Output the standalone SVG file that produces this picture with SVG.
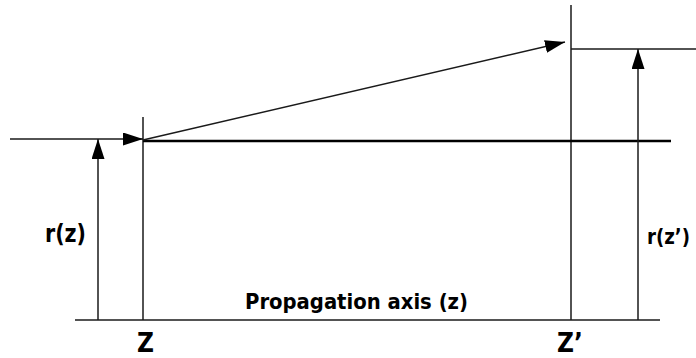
<svg xmlns="http://www.w3.org/2000/svg" width="696" height="358" viewBox="0 0 696 358">
<defs>
<marker id="ah" markerUnits="userSpaceOnUse" markerWidth="22" markerHeight="14" refX="20" refY="6.5" orient="auto">
<path d="M0,0 L20,6.5 L0,13 Z" fill="#000"/>
</marker>
<style>
.ln{stroke:#1a1a1a;stroke-width:1.5;fill:none}
.thick{stroke:#000;stroke-width:2.5;fill:none}
.lbl{font-family:"DejaVu Sans Condensed","DejaVu Sans",sans-serif;font-weight:bold;fill:#000}
</style>
</defs>
<rect width="696" height="358" fill="#fff"/>
<g id="axes">
<line class="ln" x1="75" y1="320" x2="660" y2="320"/>
<line class="ln" x1="143" y1="117" x2="143" y2="320"/>
<line class="ln" x1="571" y1="5" x2="571" y2="320"/>
<line class="ln" x1="571" y1="49" x2="696" y2="49"/>
<line class="thick" x1="143" y1="141" x2="671" y2="141"/>
</g>
<g id="connectors">
<line class="ln" x1="10" y1="139" x2="143" y2="139" marker-end="url(#ah)"/>
<line class="ln" x1="143" y1="140" x2="565" y2="42" marker-end="url(#ah)"/>
<line class="ln" x1="98" y1="320" x2="98" y2="139" marker-end="url(#ah)"/>
<line class="ln" x1="638" y1="320" x2="638" y2="49" marker-end="url(#ah)"/>
</g>
<g id="labels">
<text class="lbl" x="45" y="242" font-size="24" textLength="41" lengthAdjust="spacingAndGlyphs">r(z)</text>
<text class="lbl" x="647" y="244" font-size="22" textLength="43" lengthAdjust="spacingAndGlyphs">r(z’)</text>
<text class="lbl" x="137" y="352" font-size="26">Z</text>
<text class="lbl" x="557" y="352" font-size="26">Z’</text>
<text class="lbl" x="245" y="309" font-size="21" textLength="223" lengthAdjust="spacingAndGlyphs">Propagation axis (z)</text>
</g>
</svg>
